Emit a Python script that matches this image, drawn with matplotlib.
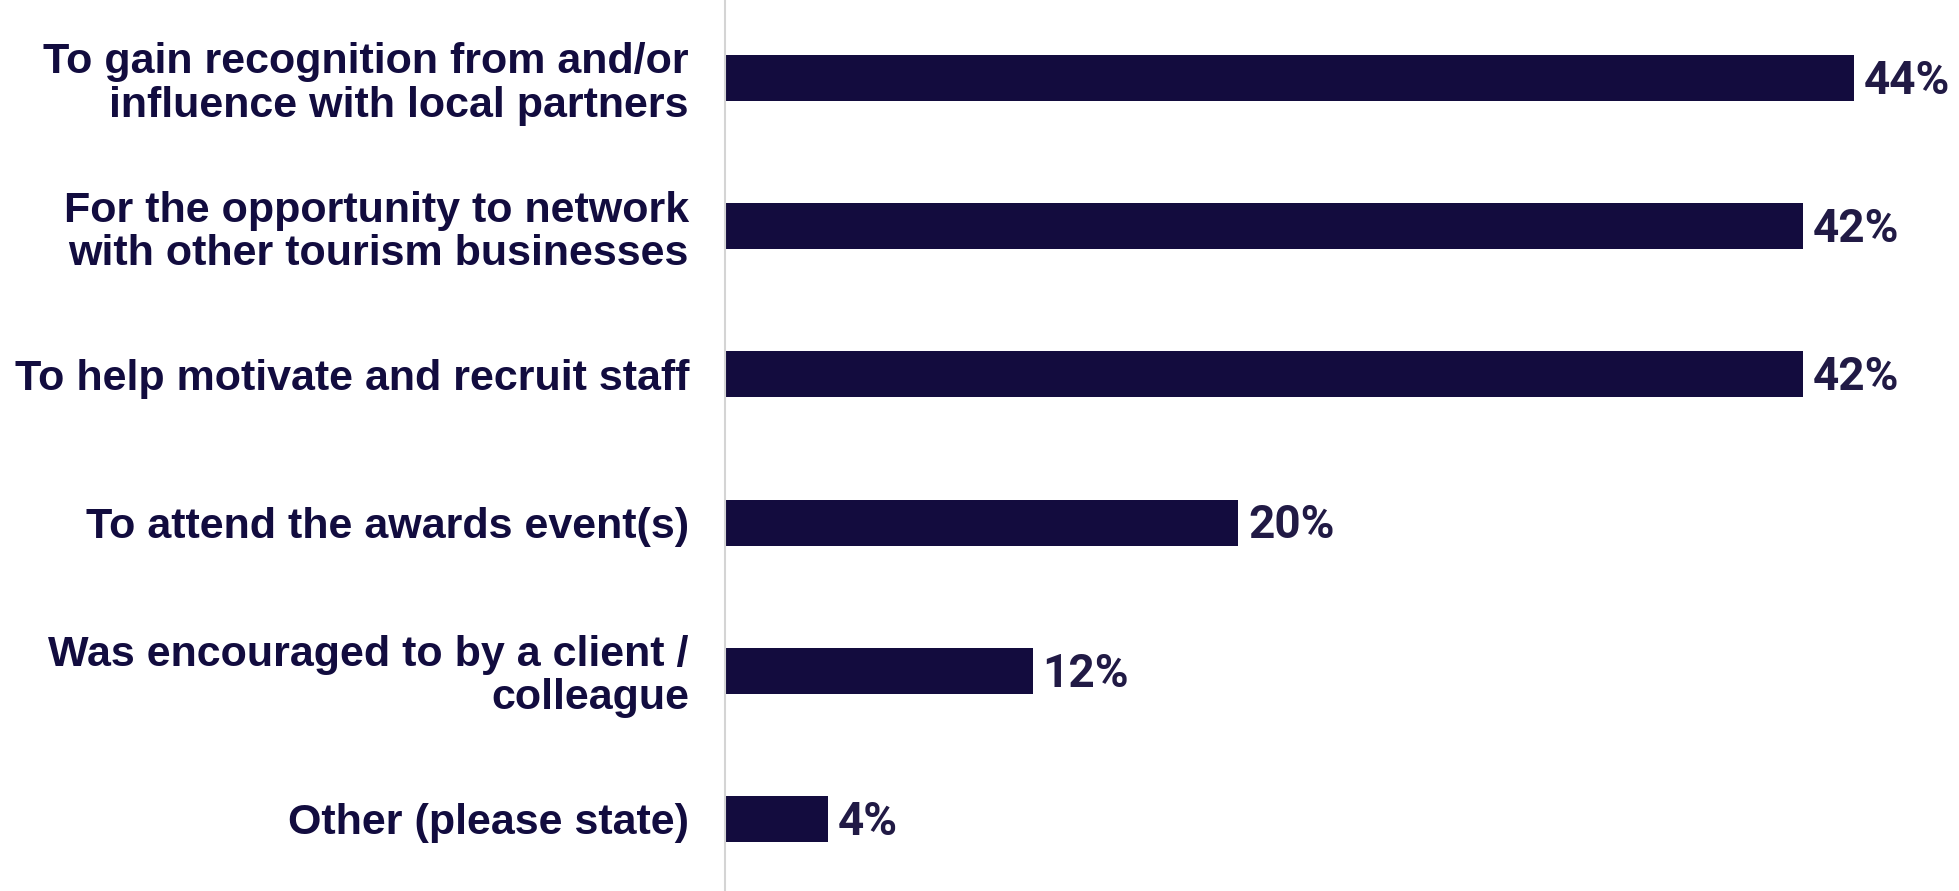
import matplotlib.pyplot as plt

categories = [
    "To gain recognition from and/or\ninfluence with local partners",
    "For the opportunity to network\nwith other tourism businesses",
    "To help motivate and recruit staff",
    "To attend the awards event(s)",
    "Was encouraged to by a client /\ncolleague",
    "Other (please state)",
]
values = [44, 42, 42, 20, 12, 4]
value_labels = ["44%", "42%", "42%", "20%", "12%", "4%"]

bar_color = "#130c3e"
text_color = "#120c3f"
label_color = "#211a45"

fig = plt.figure(figsize=(19.59, 8.91), dpi=100)
ax = fig.add_axes([725 / 1959, 0, 1 - 725 / 1959, 1])

ypos = list(range(len(categories)))
ax.barh(ypos, values, height=0.31, color=bar_color)

for y, v, lab in zip(ypos, values, value_labels):
    ax.annotate(lab, (v, y), xytext=(7, -2), textcoords="offset points",
                va="center", ha="left", fontsize=33, fontweight="bold",
                color=label_color, family="Roboto")

ax.set_yticks(ypos)
ax.set_yticklabels(categories, fontsize=31, fontweight="bold",
                   color=text_color, family="Liberation Sans",
                   ha="right", linespacing=1.1)
ax.tick_params(axis="y", length=0, pad=26)
ax.set_xticks([])

ax.set_xlim(0, 1234 / 25.66)
ax.set_ylim(5.486, -0.526)

for s in ["top", "right", "bottom"]:
    ax.spines[s].set_visible(False)
ax.spines["left"].set_color("#d4d4d4")
ax.spines["left"].set_linewidth(1.5)

fig.savefig("out.png", dpi=100)
